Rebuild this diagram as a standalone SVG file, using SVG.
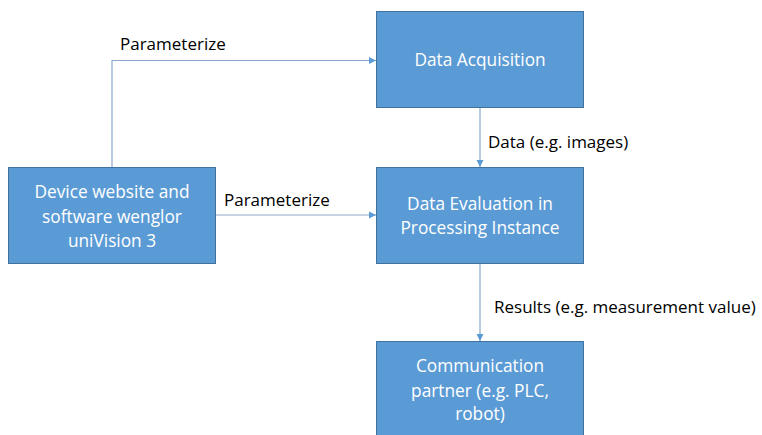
<svg xmlns="http://www.w3.org/2000/svg" width="762" height="435" viewBox="0 0 762 435">
<defs>
<style>
.box{fill:#5B9BD5;stroke:#41719C;stroke-width:1}
.bt{fill:#FFFFFF;font-family:"Open Sans","Liberation Sans",sans-serif;font-size:17.3px;text-anchor:middle}
.lbl{fill:#000000;font-family:"Open Sans","Liberation Sans",sans-serif;font-size:17px}
.con{fill:none;stroke:#8BA8CC;stroke-width:1.2}
</style>
<marker id="ah" markerWidth="8" markerHeight="8" refX="7" refY="4" orient="auto" markerUnits="userSpaceOnUse">
<path d="M0,0.5 L7,4 L0,7.5 Z" fill="#5B9BD5"/>
</marker>
</defs>
<rect width="762" height="435" fill="#FFFFFF"/>
<g id="connectors">
<path class="con" d="M112,167 V60.5 H376" marker-end="url(#ah)"/>
<path class="con" d="M215,215 H376" marker-end="url(#ah)"/>
<path class="con" d="M480,107 V167" marker-end="url(#ah)"/>
<path class="con" d="M480,263 V341" marker-end="url(#ah)"/>
<text class="lbl" x="120" y="50">Parameterize</text>
<text class="lbl" x="224" y="206">Parameterize</text>
<text class="lbl" x="488" y="148">Data (e.g. images)</text>
<text class="lbl" x="494" y="313">Results (e.g. measurement value)</text>
</g>
<g id="acq">
<rect class="box" x="376.5" y="11.5" width="207" height="96"/>
<text class="bt" x="480" y="66">Data Acquisition</text>
</g>
<g id="eval">
<rect class="box" x="376.5" y="167.5" width="207" height="96"/>
<text class="bt" x="480" y="210">Data Evaluation in</text>
<text class="bt" x="480" y="234">Processing Instance</text>
</g>
<g id="device">
<rect class="box" x="8.5" y="167.5" width="207" height="96"/>
<text class="bt" x="112" y="198">Device website and</text>
<text class="bt" x="112" y="223">software wenglor</text>
<text class="bt" x="112" y="247">uniVision 3</text>
</g>
<g id="comm">
<rect class="box" x="376.5" y="341.5" width="207" height="100"/>
<text class="bt" x="480" y="372">Communication</text>
<text class="bt" x="480" y="397">partner (e.g. PLC,</text>
<text class="bt" x="480" y="420">robot)</text>
</g>
</svg>
